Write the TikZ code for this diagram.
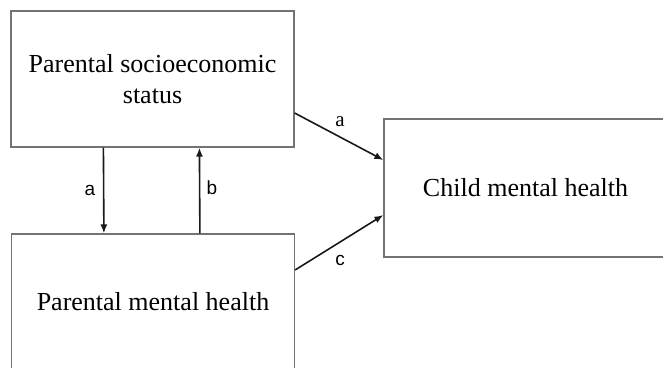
\documentclass[tikz,border=0pt]{standalone}
\usepackage{fontspec}
\setmainfont{Liberation Serif}
\newfontfamily\labsans{Liberation Sans}
\usetikzlibrary{arrows.meta}
\begin{document}
\begin{tikzpicture}[x=1pt,y=-1pt,
  boxnode/.style={draw=black!55,line width=1.2pt,rectangle,minimum width=283pt,minimum height=136pt,
    inner sep=0pt,align=center,font=\fontsize{26}{31}\selectfont},
  arr/.style={draw=black!90,line width=1.6pt,-{Latex[length=9pt,width=7pt]}},
  lab/.style={inner sep=0pt,font=\labsans\fontsize{19}{21}\selectfont},
  labserif/.style={inner sep=0pt,font=\fontsize{21}{23}\selectfont}]
\useasboundingbox (0,0) rectangle (663,367);
\clip (0,0) rectangle (663,367);
\fill[white] (0,0) rectangle (663,367);
\node[boxnode] (ses) at (152.5,79) {Parental socioeconomic\\status};
\node[boxnode] (pmh) at (153,302) {Parental mental health};
\node[boxnode,minimum height=138pt] (chm) at (525.5,188) {Child mental health};
\draw[arr] ([xshift=93pt]ses.south west) -- ([xshift=93pt]pmh.north west);
\draw[arr] ([xshift=189pt]pmh.north west) -- ([xshift=189pt]ses.south west);
\draw[arr] ([yshift=-34pt]ses.east) -- ([yshift=28pt]chm.west);
\draw[arr] ([yshift=32pt]pmh.east) -- ([yshift=-27pt]chm.west);
\node[lab] (la) at (90,190) {a};
\node[lab] (lb) at (212,188) {b};
\node[labserif] (la2) at (340,122) {a};
\node[lab] (lc) at (340,260) {c};
\end{tikzpicture}
\end{document}
